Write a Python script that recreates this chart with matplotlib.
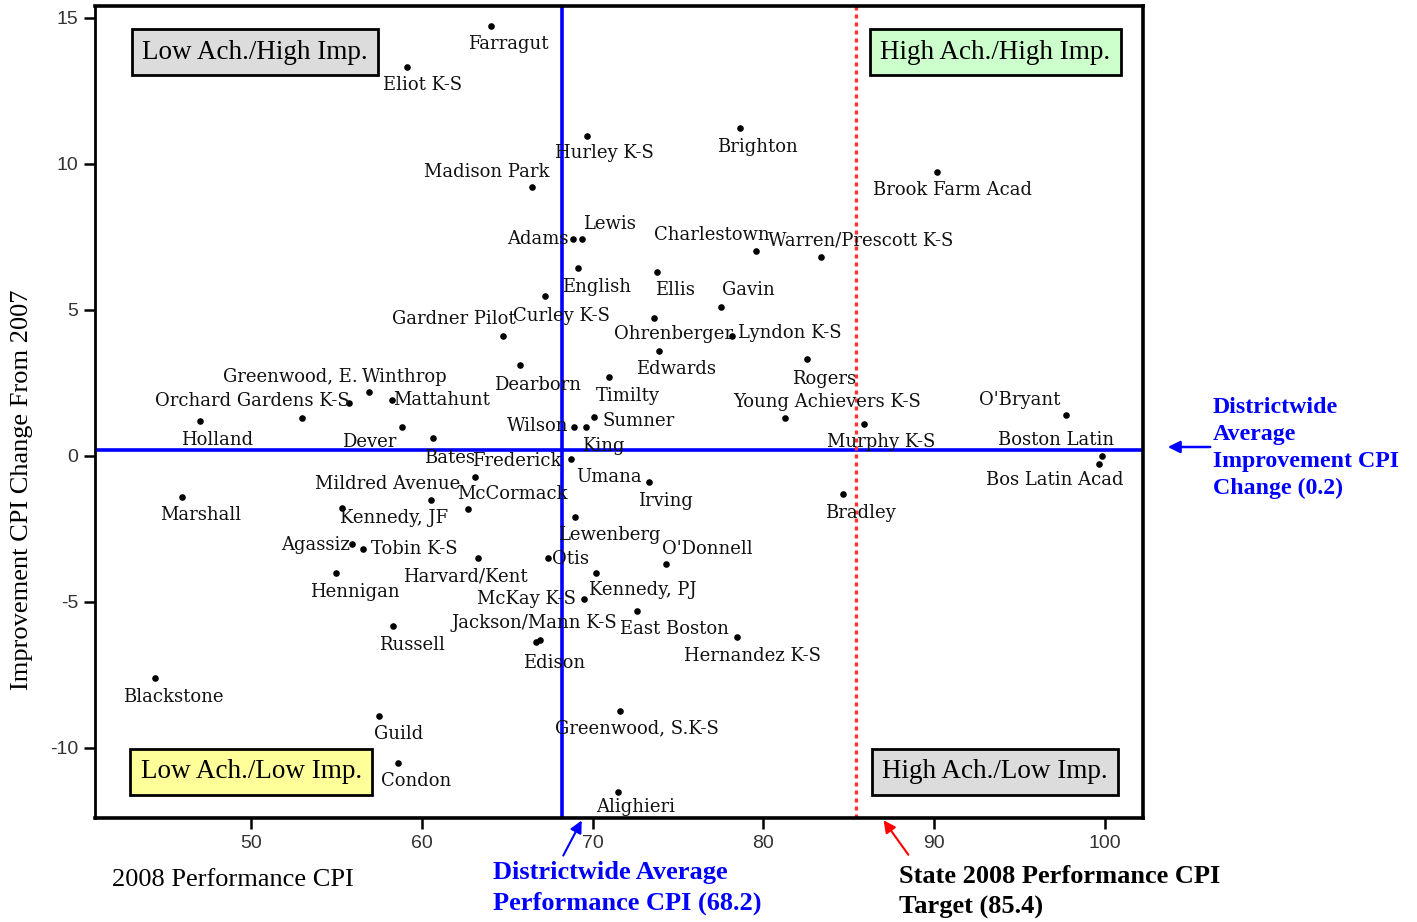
import matplotlib
matplotlib.use("Agg")
import matplotlib.pyplot as plt

plt.rcParams["axes.unicode_minus"] = False

# 2008 performance CPI vs improvement in CPI since 2007, per school
schools = [
    "Farragut", "Eliot K-S", "Madison Park", "Hurley K-S", "Brighton", "Brook Farm Acad",
    "Lewis", "Adams", "Charlestown", "Warren/Prescott K-S", "English", "Ellis", "Gavin",
    "Curley K-S", "Gardner Pilot", "Ohrenberger", "Lyndon K-S", "Edwards", "Rogers",
    "Dearborn", "Greenwood, E.", "Winthrop", "Orchard Gardens K-S", "Mattahunt", "Timilty",
    "Young Achievers K-S", "Murphy K-S", "O'Bryant", "Holland", "Dever", "Bates", "Wilson",
    "Sumner", "King", "Boston Latin", "Bos Latin Acad", "Frederick", "Umana", "Irving",
    "Mildred Avenue", "McCormack", "Kennedy, JF", "Marshall", "Bradley", "Lewenberg",
    "Agassiz", "Tobin K-S", "Otis", "O'Donnell", "Harvard/Kent", "Hennigan", "Kennedy, PJ",
    "McKay K-S", "Jackson/Mann K-S", "East Boston", "Russell", "Edison", "Hernandez K-S",
    "Blackstone", "Greenwood, S.K-S", "Guild", "Condon", "Alighieri",
]
perf_2008 = [
    64.05, 59.11, 66.43, 69.69, 78.64, 90.16,
    69.36, 68.83, 79.54, 83.36, 69.14, 73.79, 77.50,
    67.21, 64.74, 73.58, 78.14, 73.90, 82.58,
    65.75, 52.99, 56.93, 55.74, 58.26, 70.97,
    81.26, 85.89, 97.72, 47.01, 58.82, 60.64, 68.91,
    70.06, 69.62, 99.85, 99.66, 63.11, 68.75, 73.28,
    60.52, 62.73, 55.31, 45.98, 84.69, 68.96,
    55.93, 56.58, 67.41, 74.31, 63.31, 55.01, 70.19,
    69.48, 66.90, 72.60, 58.29, 66.70, 78.44,
    44.38, 71.62, 57.51, 58.62, 71.50,
]
imp_change = [
    14.74, 13.33, 9.22, 10.95, 11.23, 9.73,
    7.42, 7.42, 7.03, 6.80, 6.43, 6.31, 5.11,
    5.48, 4.11, 4.71, 4.11, 3.61, 3.31,
    3.12, 1.31, 2.20, 1.82, 1.92, 2.71,
    1.31, 1.11, 1.40, 1.21, 1.00, 0.60, 1.00,
    1.32, 1.00, 0.01, -0.28, -0.71, -0.10, -0.90,
    -1.51, -1.82, -1.79, -1.42, -1.29, -2.10,
    -3.03, -3.20, -3.50, -3.70, -3.50, -4.00, -4.00,
    -4.91, -6.29, -5.30, -5.81, -6.36, -6.21,
    -7.61, -8.72, -8.90, -10.53, -11.52,
]
district_perf = 68.2
district_imp = 0.2
state_target = 85.4

# label placement (pixel offsets from each point)
label_offsets = [
    (17, -18), (16, -18), (-45, 15), (17, -17), (17, -19), (16, -18),
    (28, 15), (-35, 0), (-44, 16), (40, 17), (19, -19), (18, -18), (28, 17),
    (17, -20), (-49, 17), (20, -16), (58, 3), (17, -18), (17, -20),
    (18, -20), (-12, 41), (35, 15), (-97, 2), (50, 0), (19, -19),
    (42, 16), (17, -18), (-46, 15), (17, -19), (-32, -15), (17, -20), (-36, 1),
    (45, -4), (17, -19), (-46, 16), (-44, -16), (42, 16), (38, -18), (17, -19),
    (-43, 16), (44, 15), (52, -10), (18, -18), (17, -19), (35, -18),
    (-37, -1), (51, 0), (22, -1), (41, 15), (-13, -18), (18, -19), (47, -17),
    (-57, 0), (-5, 17), (37, -18), (19, -19), (18, -21), (16, -19),
    (18, -19), (17, -18), (19, -18), (18, -18), (17, -15),
]

serif = ["Liberation Serif", "DejaVu Serif"]
label_font = ["DejaVu Serif"]
narrow = ["Liberation Sans Narrow", "Liberation Sans", "DejaVu Sans"]

fig = plt.figure(figsize=(14.17, 9.22), dpi=100)
ax = fig.add_axes([0.067, 0.1128, 0.7396, 0.8807])

ax.set_xlim(40.87, 102.22)
ax.set_ylim(-12.40, 15.41)

# reference lines
ax.axvline(district_perf, color="#0000ff", lw=2.6, zorder=2)
ax.axhline(district_imp, color="#0000ff", lw=2.6, zorder=2)
ax.axvline(state_target, color="#ff3333", lw=2.4, ls=(0, (1.2, 1.2)), zorder=2)

ax.scatter(perf_2008, imp_change, s=14, color="black", zorder=3)

for name, x, y, (dx, dy) in zip(schools, perf_2008, imp_change, label_offsets):
    ax.annotate(name, (x, y), xytext=(dx, dy), textcoords="offset pixels",
                ha="center", va="center", fontsize=13, family=label_font,
                color="#111111", zorder=4)

# quadrant boxes
quad_boxes = [
    ("Low Ach./High Imp.", 0.153, 0.943, "#dcdcdc"),
    ("High Ach./High Imp.", 0.859, 0.943, "#ccffcc"),
    ("Low Ach./Low Imp.", 0.149, 0.057, "#ffff99"),
    ("High Ach./Low Imp.", 0.859, 0.057, "#dcdcdc"),
]
for txt, bx, by, fc in quad_boxes:
    ax.text(bx, by, txt, transform=ax.transAxes, ha="center", va="center",
            fontsize=19.5, family=serif, zorder=5,
            bbox=dict(boxstyle="square,pad=0.38", fc=fc, ec="black", lw=2))

# axes styling
for side in ["top", "right", "bottom"]:
    ax.spines[side].set_linewidth(2.6)
ax.spines["left"].set_linewidth(2)
ax.set_xticks([50, 60, 70, 80, 90, 100])
ax.set_yticks([-10, -5, 0, 5, 10, 15])
ax.tick_params(direction="out", length=8, width=1.8, labelsize=14, pad=4)
for lab in ax.get_xticklabels() + ax.get_yticklabels():
    lab.set_family(narrow)
    lab.set_color("#333333")

fig.text(22 / 1417, 1 - 490 / 922, "Improvement CPI Change From 2007", rotation=90,
         ha="center", va="center", fontsize=19, family=serif)
fig.text(233 / 1417, 1 - 880 / 922, "2008 Performance CPI", ha="center", va="center",
         fontsize=19, family=serif)

# annotations below and to the right
fig.text(493 / 1417, 1 - 888 / 922, "Districtwide Average\nPerformance CPI (68.2)",
         ha="left", va="center", fontsize=19, fontweight="bold", color="#0000ff",
         family=serif, linespacing=1.38)
fig.text(899 / 1417, 1 - 892 / 922, "State 2008 Performance CPI\nTarget (85.4)",
         ha="left", va="center", fontsize=19, fontweight="bold", color="black",
         family=serif, linespacing=1.38)
fig.text(1213 / 1417, 1 - 448 / 922, "Districtwide\nAverage\nImprovement CPI\nChange (0.2)",
         ha="left", va="center", fontsize=17.2, fontweight="bold", color="#0000ff",
         family=serif, linespacing=1.38)

ax.annotate("", xy=(69.44, -12.40), xycoords="data",
            xytext=(562, 922 - 858), textcoords="figure pixels",
            arrowprops=dict(arrowstyle="-|>", color="#0000ff", lw=1.5, mutation_scale=18),
            annotation_clip=False)
ax.annotate("", xy=(86.94, -12.40), xycoords="data",
            xytext=(910, 922 - 857), textcoords="figure pixels",
            arrowprops=dict(arrowstyle="-|>", color="#ff0000", lw=1.5, mutation_scale=18),
            annotation_clip=False)
ax.annotate("", xy=(1165, 922 - 447), xycoords="figure pixels",
            xytext=(1213, 922 - 447), textcoords="figure pixels",
            arrowprops=dict(arrowstyle="-|>", color="#0000ff", lw=1.8, mutation_scale=18),
            annotation_clip=False)

fig.savefig("out.png", dpi=100)
